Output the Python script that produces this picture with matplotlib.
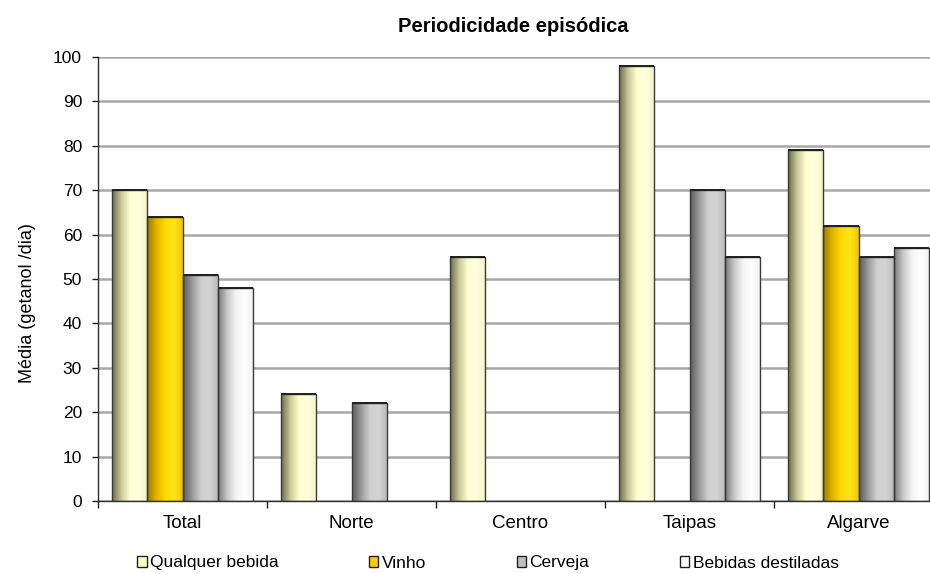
import numpy as np
import matplotlib
matplotlib.use("Agg")
import matplotlib.pyplot as plt
from matplotlib.patches import Patch
from matplotlib.colors import LinearSegmentedColormap

plt.rcParams['font.family'] = ['Liberation Sans', 'DejaVu Sans']

categories = ["Total", "Norte", "Centro", "Taipas", "Algarve"]
series_names = ["Qualquer bebida", "Vinho", "Cerveja", "Bebidas destiladas"]
qualquer = [70, 24, 55, 98, 79]
vinho = [64, None, None, None, 62]
cerveja = [51, 22, None, 70, 55]
destiladas = [48, None, None, 55, 57]
series_values = [qualquer, vinho, cerveja, destiladas]

# gradient stops (left -> right), like a cylinder
gradients = [
    ["#6c6c4c", "#c8c89a", "#ffffd0", "#ffffe0", "#f4f4c4"],
    ["#9a7a00", "#e0b400", "#ffd800", "#ffe41a", "#f2c800"],
    ["#5c5c5c", "#9a9a9a", "#cfcfcf", "#d4d4d4", "#b8b8b8"],
    ["#7a7a7a", "#c8c8c8", "#f4f4f4", "#ffffff", "#f0f0f0"],
]
legend_colors = ["#ffffcc", "#ffcc00", "#bfbfbf", "#ffffff"]

fig = plt.figure(figsize=(9.3, 5.74), dpi=100)
ax = fig.add_axes([98/930, 1-501/574, (943-98)/930, (501-57)/574])

n = len(series_names)
bw = 0.21
group_w = bw * n
x = np.arange(len(categories))

for si, vals in enumerate(series_values):
    cmap = LinearSegmentedColormap.from_list(f"g{si}", gradients[si])
    grad = cmap(np.linspace(0, 1, 64))[np.newaxis, :, :]
    for ci, v in enumerate(vals):
        if v is None:
            continue
        x0 = x[ci] - group_w/2 + si*bw
        ax.imshow(grad, extent=[x0, x0+bw, 0, v], aspect='auto', zorder=2,
                  interpolation='bilinear')
        ax.bar(x0, v, width=bw, align='edge', facecolor='none',
               edgecolor='#3a3a3a', linewidth=1.0, zorder=3)
        ax.plot([x0, x0+bw], [v, v], color='#202020', lw=1.4, zorder=4,
                solid_capstyle='butt')

ax.set_xlim(-0.5, len(categories)-0.5)
ax.set_ylim(0, 100)
ax.set_yticks(np.arange(0, 101, 10))
ax.yaxis.grid(True, color='#a8a8a8', linewidth=1.8, zorder=0)
ax.set_axisbelow(True)

ax.set_xticks(np.arange(len(categories)+1) - 0.5)
ax.set_xticklabels([])
ax.set_xticks(x, minor=True)
ax.set_xticklabels(categories, minor=True, fontsize=13.5)
ax.tick_params(axis='x', which='minor', length=0, pad=10)
ax.tick_params(axis='x', which='major', length=5, width=1, color='#202020', direction='out')
ax.tick_params(axis='y', length=4, width=1, color='#202020', labelsize=12.5, pad=7.5)

for s in ['top', 'right']:
    ax.spines[s].set_visible(False)
ax.spines['left'].set_color('#303030')
ax.spines['bottom'].set_color('#303030')
ax.spines['left'].set_linewidth(1.0)
ax.spines['bottom'].set_linewidth(1.0)

fig.text(27/930, 1-303/574, "Média (getanol /dia)", fontsize=13, rotation=90,
         ha='center', va='center')
fig.text(513/930, 1-31.7/574, "Periodicidade episódica", fontsize=14.5, fontweight='bold',
         ha='center', va='baseline')

handles = [Patch(facecolor=c, edgecolor='#202020', linewidth=1.0) for c in legend_colors]
fig.legend(handles, series_names, loc='center left', bbox_to_anchor=(137/930, 1-563/574),
           ncol=4, frameon=False, fontsize=12.5, handlelength=0.55, handleheight=0.55,
           handletextpad=0.2, columnspacing=5.2, borderaxespad=0, borderpad=0)

fig.savefig("out.png", dpi=100)
